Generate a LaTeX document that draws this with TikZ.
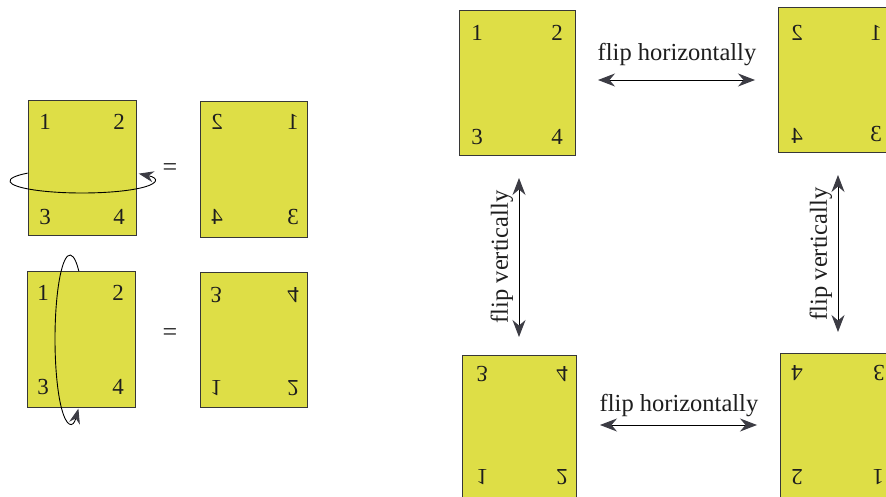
\documentclass[tikz,border=0pt]{standalone}
\usepackage{graphicx}
\usepackage{fontspec}
\setmainfont{Liberation Serif}
\usetikzlibrary{arrows.meta}

\definecolor{cardfill}{RGB}{222,222,70}
\definecolor{cardedge}{RGB}{55,55,55}
\definecolor{tipgray}{RGB}{60,60,68}
\definecolor{inkgray}{RGB}{30,30,30}

% mirrored digits
\newcommand{\hmir}[1]{\reflectbox{#1}}
\newcommand{\vmir}[1]{\scalebox{1}[-1]{#1}}
\newcommand{\rmir}[1]{\rotatebox[origin=c]{180}{#1}}

\tikzset{
  card/.style={draw=cardedge, line width=0.9pt, fill=cardfill, inner sep=0pt},
  num/.style={font=\fontsize{23}{23}\selectfont, text=inkgray, inner sep=0pt},
  lab/.style={font=\fontsize{24.5}{24.5}\selectfont, text=inkgray, inner sep=0pt},
  eq/.style={font=\fontsize{26}{26}\selectfont, text=inkgray, inner sep=0pt},
  dblarrow/.style={line width=0.9pt, draw=black,
    {Stealth[length=17pt,width=13pt,color=tipgray]}-{Stealth[length=17pt,width=13pt,color=tipgray]}},
  spin/.style={line width=0.9pt, draw=black,
    -{Stealth[length=15pt,width=11pt,color=tipgray]}}
}

\begin{document}
\begin{tikzpicture}[x=1pt,y=-1pt]
\useasboundingbox (0,0) rectangle (886,497);
\clip (0,0) rectangle (886,497);
\fill[white] (0,0) rectangle (886,497);

% ---------- left: turning a card about an axis ----------
% turn about the vertical axis
\node[card, minimum width=108pt, minimum height=135pt] (A) at (82,167.5) {};
\node[num] (a1) at (45,122) {1};
\node[num] (a2) at (119,122) {2};
\node[num] (a3) at (45,217) {3};
\node[num] (a4) at (119,217) {4};
\coordinate (axA) at (82,181);
\draw[spin] ([shift={(-139:72 and 12)}]axA) arc[start angle=-139, end angle=-398, x radius=72, y radius=12];

\node[eq] (eq1) at (170,170) {=};

\node[card, minimum width=107pt, minimum height=136pt] (B) at (253.5,169) {};
\node[num] (b1) at (217,122) {\hmir{2}};
\node[num] (b2) at (293,122) {\hmir{1}};
\node[num] (b3) at (217,217) {\hmir{4}};
\node[num] (b4) at (293,217) {\hmir{3}};

% turn about the horizontal axis
\coordinate (axC) at (70,339);
\node[card, minimum width=108pt, minimum height=136pt] (C) at (81,339) {};
\node[num] (c1) at (43,293) {1};
\node[num] (c2) at (118,293) {2};
\node[num] (c3) at (43,387) {3};
\node[num] (c4) at (118,387) {4};
\draw[spin] ([shift={(-54:15 and 84)}]axC) arc[start angle=-54, end angle=-304, x radius=15, y radius=84];

\node[eq] (eq2) at (170,335) {=};

\node[card, minimum width=107pt, minimum height=135pt] (D) at (253.5,339.5) {};
\node[num] (d1) at (216,295) {\vmir{3}};
\node[num] (d2) at (293,295) {\vmir{4}};
\node[num] (d3) at (216,388) {\vmir{1}};
\node[num] (d4) at (293,388) {\vmir{2}};

% ---------- right: the four orientations ----------
\node[card, minimum width=116pt, minimum height=145pt] (TL) at (517,82.5) {};
\node[num] (tl1) at (477,33) {1};
\node[num] (tl2) at (557,33) {2};
\node[num] (tl3) at (477,137) {3};
\node[num] (tl4) at (557,137) {4};

\node[card, minimum width=116pt, minimum height=145pt] (TR) at (836,79.5) {};
\node[num] (tr1) at (797,33) {\hmir{2}};
\node[num] (tr2) at (876,33) {\hmir{1}};
\node[num] (tr3) at (797,136) {\hmir{4}};
\node[num] (tr4) at (876,134) {\hmir{3}};

\node[card, minimum width=114pt, minimum height=145pt] (BL) at (519,427.5) {};
\node[num] (bl1) at (482,374) {\vmir{3}};
\node[num] (bl2) at (562,374) {\vmir{4}};
\node[num] (bl3) at (482,477) {\vmir{1}};
\node[num] (bl4) at (562,477) {\vmir{2}};

\node[card, minimum width=116pt, minimum height=145pt] (BR) at (838,425.5) {};
\node[num] (br1) at (797,373) {\rmir{4}};
\node[num] (br2) at (879,373) {\rmir{3}};
\node[num] (br3) at (797,477) {\rmir{2}};
\node[num] (br4) at (878,477) {\rmir{1}};

% connectors between the orientations
\coordinate (hTa) at (598,80);  \coordinate (hTb) at (755,80);
\coordinate (hBa) at (600,425); \coordinate (hBb) at (757,425);
\coordinate (vLa) at (519,178); \coordinate (vLb) at (519,337);
\coordinate (vRa) at (838,175); \coordinate (vRb) at (838,332);

\draw[dblarrow] (hTa) -- (hTb);
\draw[dblarrow] (hBa) -- (hBb);
\draw[dblarrow] (vLa) -- (vLb);
\draw[dblarrow] (vRa) -- (vRb);

\node[lab] (ht) at (677,55) {flip horizontally};
\node[lab] (hb) at (679,406) {flip horizontally};
\node[lab, rotate=90] (vl) at (502,257) {flip vertically};
\node[lab, rotate=90] (vr) at (821,254) {flip vertically};
\end{tikzpicture}
\end{document}
